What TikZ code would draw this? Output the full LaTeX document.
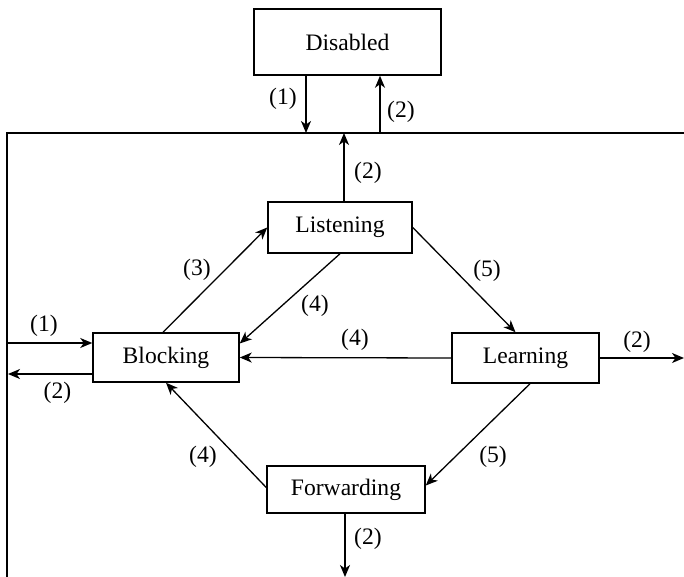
\documentclass[tikz,border=0pt]{standalone}
\usepackage{fontspec}
\setmainfont{Liberation Serif}
\usetikzlibrary{arrows.meta,calc}
\begin{document}
\begin{tikzpicture}[x=1pt,y=-1pt,
  statebox/.style={draw,line width=1.5pt,inner sep=0pt,font=\fontsize{23.6}{28}\selectfont},
  arr/.style={line width=1.3pt,-{Stealth[length=12pt,width=10pt,inset=3.5pt]}},
  lbl/.style={inner sep=0pt,font=\fontsize{23.6}{28}\selectfont},
  frame/.style={line width=1.3pt}]
\useasboundingbox (0,0) rectangle (684,577);
% states
\node[statebox,minimum width=187pt,minimum height=66pt] (dis) at (347.5,42) {Disabled};
\node[statebox,minimum width=144pt,minimum height=51pt] (lis) at (340,227.5) {Listening};
\node[statebox,minimum width=146pt,minimum height=49pt] (blk) at (166,357.5) {Blocking};
\node[statebox,minimum width=147pt,minimum height=50pt] (lrn) at (525.5,358) {Learning};
\node[statebox,minimum width=158pt,minimum height=47pt] (fwd) at (346,489.5) {Forwarding};
% frame
\coordinate (ftr) at (684,133);
\coordinate (ftl) at (7,133);
\coordinate (fbl) at (7,577);
\draw[frame] (ftr) -- (ftl) -- (fbl);
% free ends
\coordinate (c1) at (306,133);
\coordinate (c2) at (380,133);
\coordinate (c3) at (344,133);
\coordinate (c4) at (7,343);
\coordinate (c5) at (8,374);
\coordinate (c6) at (684,358);
\coordinate (c7) at (345,577);
% connectors
\draw[arr] (dis.south -| c1) -- (c1);
\draw[arr] (c2) -- (c2 |- dis.south);
\draw[arr] (lis.north -| c3) -- (c3);
\draw[arr] (c4) -- (c4 -| blk.west);
\draw[arr] (c5 -| blk.west) -- (c5);
\draw[arr] (lrn.west) -- (blk.east);
\draw[arr] (lrn.east) -- (c6);
\draw[arr] (fwd.south -| c7) -- (c7);
\draw[arr] ([xshift=-3pt]blk.north) -- (lis.west);
\draw[arr] (lis.south) -- ([yshift=14pt]blk.east);
\draw[arr] (lis.east) -- ([xshift=-10pt]lrn.north);
\draw[arr] ([xshift=4.5pt]lrn.south) -- ([yshift=4pt]fwd.east);
\draw[arr] ([yshift=2pt]fwd.west) -- (blk.south);
% labels
\node[lbl] (t1) at (283,99) {(1)};
\node[lbl] (t2) at (401,112) {(2)};
\node[lbl] (t3) at (368,173) {(2)};
\node[lbl] (t4) at (44,326) {(1)};
\node[lbl] (t5) at (57.5,393) {(2)};
\node[lbl] (t6) at (637,342) {(2)};
\node[lbl] (t7) at (368,539) {(2)};
\node[lbl] (t8) at (197,270) {(3)};
\node[lbl] (t9) at (315,306) {(4)};
\node[lbl] (t10) at (355,340) {(4)};
\node[lbl] (t11) at (487,271) {(5)};
\node[lbl] (t12) at (493,457) {(5)};
\node[lbl] (t13) at (203,457) {(4)};
\end{tikzpicture}
\end{document}
